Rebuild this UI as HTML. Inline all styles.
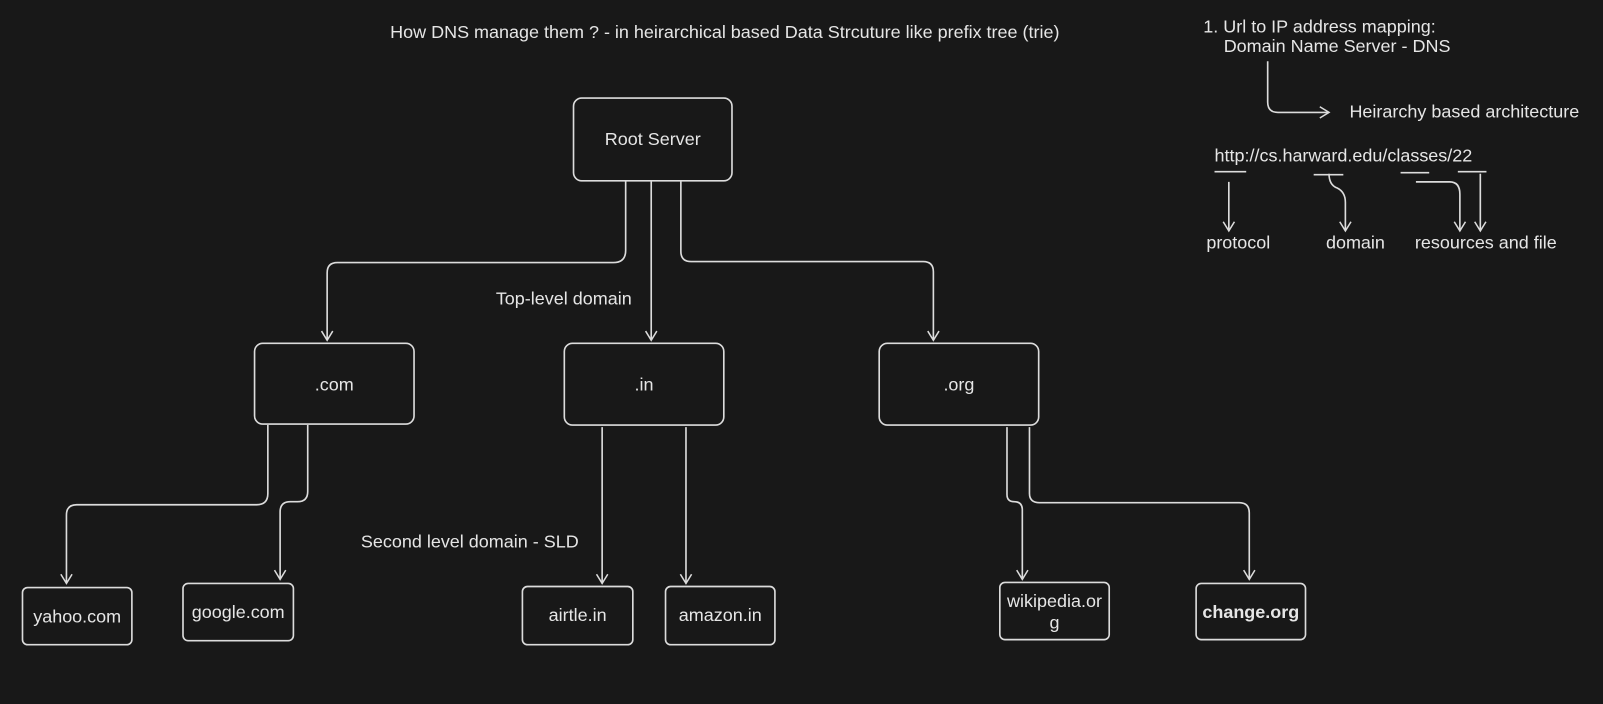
<!DOCTYPE html>
<html><head><meta charset="utf-8"><style>
html,body{margin:0;padding:0;background:#181818;}
svg{display:block}
text{font-family:"Liberation Sans",sans-serif;fill:#e6e6e6;font-size:17.6px}
</style></head><body>
<svg width="1603" height="704" viewBox="0 0 1568 689" preserveAspectRatio="none">
<rect width="1568" height="689" fill="#181818"/>
<defs><marker id="a" markerWidth="14" markerHeight="14" refX="12" refY="7" orient="auto" markerUnits="userSpaceOnUse" viewBox="0 0 14 14"><path d="M3,1.5 L12,7 L3,12.5" fill="none" stroke="#dcdcdc" stroke-width="1.5"/></marker></defs>
<g fill="none" stroke="#dcdcdc" stroke-width="1.6">
<rect x="561" y="96" width="155" height="81" rx="8"/>
<rect x="249" y="336" width="156" height="79" rx="8"/>
<rect x="552" y="336" width="156" height="80" rx="8"/>
<rect x="860" y="336" width="156" height="80" rx="8"/>
<rect x="22" y="575" width="107" height="56" rx="5"/>
<rect x="179" y="571" width="108" height="56" rx="5"/>
<rect x="511" y="574" width="108" height="57" rx="5"/>
<rect x="651" y="574" width="107" height="57" rx="5"/>
<rect x="978" y="570" width="107" height="56" rx="5"/>
<rect x="1170" y="571" width="107" height="55" rx="5"/>
<g marker-end="url(#a)">
<path d="M612,177 V245 Q612,257 600,257 H330 Q320,257 320,267 V333"/>
<path d="M637,177 V333"/>
<path d="M666,177 V246 Q666,256 676,256 H903 Q913,256 913,266 V333"/>
<path d="M262,416 V483 Q262,494 251,494 H75 Q65,494 65,504 V571"/>
<path d="M301,416 V481 Q301,491 291,491 H284 Q274,491 274,501 V567"/>
<path d="M589,418 V571"/>
<path d="M671,418 V571"/>
<path d="M985,418 V484 Q985,491 992,491 Q1000,491 1000,499 V567"/>
<path d="M1007,418 V483 Q1007,492 1017,492 H1212 Q1222,492 1222,502 V567"/>
<path d="M1202,178 V226"/>
<path d="M1300,170 Q1300,181 1308,184 Q1316,188 1316,198 V226"/>
<path d="M1385,178 H1418 Q1428,178 1428,190 V226"/>
<path d="M1448,170 V226"/>
<path d="M1240,60 V100 Q1240,110 1250,110 H1300"/>
</g>
<path d="M1188,168 H1219 M1285,171 H1314 M1370,169 H1398 M1426,168 H1454"/>
</g>
<text x="709" y="37" text-anchor="middle">How DNS manage them ? - in heirarchical based Data Strcuture like prefix tree (trie)</text>
<text x="638.5" y="142" text-anchor="middle">Root Server</text>
<text x="327" y="382" text-anchor="middle">.com</text>
<text x="630" y="382" text-anchor="middle">.in</text>
<text x="938" y="382" text-anchor="middle">.org</text>
<text x="485" y="298">Top-level domain</text>
<text x="353" y="536">Second level domain - SLD</text>
<text x="75.5" y="609" text-anchor="middle">yahoo.com</text>
<text x="233" y="605" text-anchor="middle">google.com</text>
<text x="565" y="608" text-anchor="middle">airtle.in</text>
<text x="704.5" y="608" text-anchor="middle">amazon.in</text>
<text x="1031.5" y="594" text-anchor="middle">wikipedia.or</text>
<text x="1031.5" y="615" text-anchor="middle">g</text>
<text x="1223.5" y="605" text-anchor="middle" font-weight="bold">change.org</text>
<text x="1177" y="32">1. Url to IP address mapping:</text>
<text x="1197" y="51">Domain Name Server - DNS</text>
<text x="1320" y="115">Heirarchy based architecture</text>
<text x="1188" y="158">http://cs.harward.edu/classes/22</text>
<text x="1180" y="243">protocol</text>
<text x="1297" y="243">domain</text>
<text x="1384" y="243">resources and file</text>
</svg>
</body></html>
